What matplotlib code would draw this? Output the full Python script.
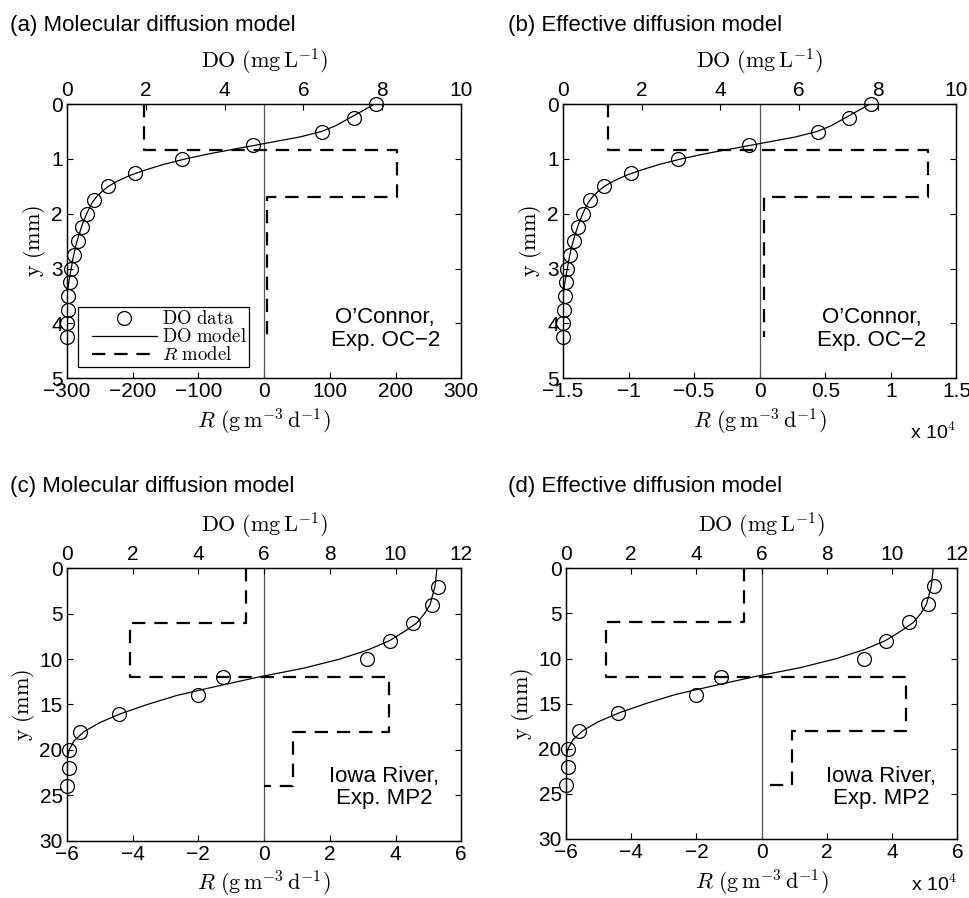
import matplotlib
matplotlib.use('Agg')
import matplotlib.pyplot as plt
from matplotlib.ticker import FuncFormatter
from matplotlib.lines import Line2D
from matplotlib.legend_handler import HandlerLine2D

plt.rcParams['font.family'] = ['Liberation Sans', 'DejaVu Sans']
plt.rcParams['mathtext.fontset'] = 'cm'

# O'Connor, Exp. OC-2 : DO data (depth in mm, DO in mg/L)
oc_y = [0, 0.25, 0.5, 0.75, 1.0, 1.25, 1.5, 1.75, 2.0, 2.25, 2.5, 2.75, 3.0, 3.25, 3.5, 3.75, 4.0, 4.25]
oc_do = [7.84, 7.27, 6.48, 4.72, 2.93, 1.73, 1.04, 0.69, 0.51, 0.38, 0.27, 0.19, 0.11, 0.07, 0.04, 0.02, 0.01, 0.0]
# DO model curve
oc_my = [0, 0.1, 0.2, 0.3, 0.4, 0.5, 0.6, 0.7, 0.8, 0.9, 1.0, 1.1, 1.2, 1.3, 1.4, 1.5,
         1.6, 1.7, 1.8, 2.0, 2.2, 2.4, 2.6, 2.8, 3.0, 3.2, 3.4, 3.5]
oc_mdo = [7.8, 7.55, 7.3, 7.05, 6.8, 6.45, 5.9, 5.15, 4.4, 3.65, 3.0, 2.45, 2.0, 1.6, 1.3, 1.05,
          0.88, 0.74, 0.64, 0.5, 0.39, 0.3, 0.22, 0.16, 0.11, 0.06, 0.02, 0.0]
# R model steps
oc_ry = [0, 0.83, 0.83, 1.7, 1.7, 4.25]
oc_r_mol = [-183, -183, 203, 203, 5, 5]
oc_r_eff = [-1.16, -1.16, 1.28, 1.28, 0.03, 0.03]   # x 10^4

# Iowa River, Exp. MP2
ia_y = [2, 4, 6, 8, 10, 12, 14, 16, 18, 20, 22, 24]
ia_do = [11.29, 11.1, 10.52, 9.82, 9.14, 4.75, 3.98, 1.59, 0.41, 0.07, 0.07, 0.0]
ia_my = [0, 2, 4, 5, 6, 7, 8, 9, 10, 11, 12, 13, 14, 15, 16, 17, 18, 19, 20, 21, 21.5]
ia_mdo = [11.26, 11.2, 11.05, 10.88, 10.65, 10.25, 9.8, 9.15, 8.3, 7.2, 5.8, 4.55, 3.35, 2.45, 1.65,
          1.0, 0.52, 0.22, 0.07, 0.01, 0.0]
ia_ry = [0, 6, 6, 12, 12, 18, 18, 24, 24]
ia_r_mol = [-0.54, -0.54, -4.08, -4.08, 3.8, 3.8, 0.87, 0.87, 0.0]
ia_r_eff = [-0.55, -0.55, -4.77, -4.77, 4.41, 4.41, 0.93, 0.93, 0.0]  # x 10^4

FS = 15


def fmt(v, pos):
    return f'{v:g}'.replace('-', '\u2212')


def panel(rect, title, tx, y, do, my, mdo, ry, r, rlim, rticks, dolim, doticks,
          ylim, yticks, note, notexy, scale=None, legend=False):
    ax = fig.add_axes(rect)
    ax2 = ax.twiny()
    ax.axvline(0, color='#555555', lw=0.9)
    ax.plot(r, ry, color='black', lw=1.6, dashes=(6, 4))
    ax2.plot(mdo, my, color='black', lw=0.9)
    ax2.plot(do, y, 'o', mfc='none', mec='black', ms=10, mew=0.9, clip_on=False, zorder=5)
    ax.set_xlim(rlim)
    ax.set_xticks(rticks)
    ax2.set_xlim(dolim)
    ax2.set_xticks(doticks)
    ax.set_ylim(ylim[1], ylim[0])
    ax.set_yticks(yticks)
    for a in (ax, ax2):
        a.xaxis.set_major_formatter(FuncFormatter(fmt))
        a.tick_params(direction='in', length=4, labelsize=FS, pad=3, width=0.8)
        for s in a.spines.values():
            s.set_linewidth(0.9)
    ax.tick_params(right=True)
    ax.yaxis.set_major_formatter(FuncFormatter(fmt))
    ax.set_xlabel(r'$R\ (\mathrm{g\,m^{-3}\,d^{-1}})$', fontsize=FS + 1, labelpad=4)
    ax2.set_xlabel(r'$\mathrm{DO\ (mg\,L^{-1})}$', fontsize=FS + 1, labelpad=9)
    ax.set_ylabel(r'$\mathrm{y\ (mm)}$', fontsize=FS + 1, labelpad=2)
    ax.text(notexy[0], notexy[1], note, transform=ax.transAxes, fontsize=FS + 1,
            ha='center', va='center', multialignment='center', linespacing=1.1)
    fig.text(tx[0], tx[1], title, fontsize=FS + 1, ha='left', va='baseline')
    if scale is not None:
        ax.text(1.0, scale, r'x 10$^{\mathsf{4}}$', transform=ax.transAxes,
                fontsize=FS - 1, ha='right', va='center')
    if legend:
        h = [Line2D([], [], ls='none', marker='o', mfc='none', mec='black', ms=10, mew=0.9),
             Line2D([], [], color='black', lw=0.9),
             Line2D([], [], color='black', lw=1.6, dashes=(6, 4))]
        lab = [r'$\mathrm{DO\ data}\quad$', r'$\mathrm{DO\ model}\quad$', r'$R\ \mathrm{model}\quad$']
        leg = ax2.legend(h, lab, loc='lower left', bbox_to_anchor=(0.028, 0.04),
                         fontsize=FS - 1.5, frameon=True, fancybox=False,
                         handlelength=4.05, borderpad=0.15, labelspacing=0.0,
                         handletextpad=0.27, borderaxespad=0, framealpha=1,
                         handler_map={Line2D: HandlerLine2D(xpad=0.59)})
        leg.get_frame().set_edgecolor('black')
        leg.get_frame().set_linewidth(0.9)
        leg.set_zorder(10)
    return ax


fig = plt.figure(figsize=(9.69, 8.98), dpi=100)

panel([0.069, 0.579, 0.407, 0.305], '(a) Molecular diffusion model', (0.010, 0.965),
      oc_y, oc_do, oc_my, oc_mdo, oc_ry, oc_r_mol, (-300, 300), range(-300, 301, 100),
      (0, 10), range(0, 11, 2), (0, 5), range(0, 6), "O\u2019Connor,\nExp. OC\u22122",
      (0.807, 0.18), legend=True)
panel([0.581, 0.579, 0.406, 0.305], '(b) Effective diffusion model', (0.524, 0.965),
      oc_y, oc_do, oc_my, oc_mdo, oc_ry, oc_r_eff, (-1.5, 1.5), [-1.5, -1, -0.5, 0, 0.5, 1, 1.5],
      (0, 10), range(0, 11, 2), (0, 5), range(0, 6), "O\u2019Connor,\nExp. OC\u22122",
      (0.784, 0.18), scale=-0.2)
panel([0.069, 0.064, 0.407, 0.303], '(c) Molecular diffusion model', (0.010, 0.452),
      ia_y, ia_do, ia_my, ia_mdo, ia_ry, ia_r_mol, (-6, 6), range(-6, 7, 2),
      (0, 12), range(0, 13, 2), (0, 30), range(0, 31, 5), "Iowa River,\nExp. MP2",
      (0.805, 0.195))
panel([0.584, 0.066, 0.404, 0.301], '(d) Effective diffusion model', (0.524, 0.452),
      ia_y, ia_do, ia_my, ia_mdo, ia_ry, ia_r_eff, (-6, 6), range(-6, 7, 2),
      (0, 12), range(0, 13, 2), (0, 30), range(0, 31, 5), "Iowa River,\nExp. MP2",
      (0.806, 0.19), scale=-0.17)

fig.savefig('out.png', dpi=100)
